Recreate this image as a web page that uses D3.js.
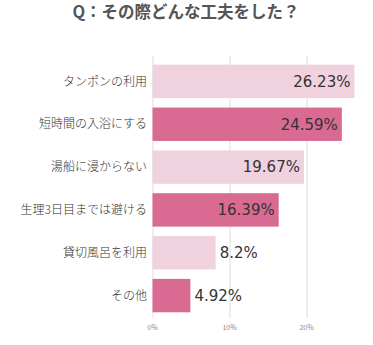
<!DOCTYPE html>
<html>
<head>
<meta charset="utf-8">
<script src="https://cdn.jsdelivr.net/npm/d3@7"></script>
<style>
  body { margin: 0; background: #fff; }
  svg { display: block; font-family: "Noto Sans CJK JP", sans-serif; }
</style>
</head>
<body>
<svg id="chart" width="373" height="345"></svg>
<script>
var categories = ["タンポンの利用", "短時間の入浴にする", "湯船に浸からない", "生理3日目までは避ける", "貸切風呂を利用", "その他"]
var values = [26.23, 24.59, 19.67, 16.39, 8.2, 4.92]
var valueLabels = ["26.23%", "24.59%", "19.67%", "16.39%", "8.2%", "4.92%"]
var tickValues = [0, 10, 20]
var tickLabels = ["0%", "10%", "20%"]

var svg = d3.select("#chart")
var light = "#f0d1de", dark = "#d96b93"

svg.append("text")
    .attr("x", 186)
    .attr("y", 18)
    .attr("text-anchor", "middle")
    .attr("font-size", 16.5)
    .attr("font-weight", "bold")
    .attr("fill", "#555")
    .text("Q：その際どんな工夫をした？")

var x = d3.scaleLinear().domain([0, 30]).range([152.5, 383.5])
var y = d3.scaleBand().domain(categories).range([60, 317]).paddingInner(0.22).paddingOuter(0.11)

// grid
svg.selectAll(".grid")
    .data(tickValues)
    .enter().append("line")
    .attr("x1", d => x(d) + 0.5)
    .attr("x2", d => x(d) + 0.5)
    .attr("y1", 56)
    .attr("y2", 318)
    .attr("stroke", "#ddd")
    .attr("stroke-width", 1)

svg.selectAll(".tick-label")
    .data(tickValues)
    .enter().append("text")
    .attr("x", d => x(d))
    .attr("y", 330)
    .attr("text-anchor", "middle")
    .attr("font-size", 7)
    .attr("fill", "#888")
    .text((d, i) => tickLabels[i])

svg.selectAll(".bar")
    .data(categories)
    .enter().append("rect")
    .attr("x", x(0))
    .attr("y", d => y(d))
    .attr("width", (d, i) => x(values[i]) - x(0))
    .attr("height", y.bandwidth())
    .attr("fill", (d, i) => i % 2 == 0 ? light : dark)

svg.selectAll(".cat")
    .data(categories)
    .enter().append("text")
    .attr("x", 147)
    .attr("y", d => y(d) + y.bandwidth() / 2)
    .attr("dy", "0.35em")
    .attr("text-anchor", "end")
    .attr("font-size", 12)
    .attr("font-weight", 300)
    .attr("fill", "#333")
    .text(d => d)

svg.selectAll(".val")
    .data(categories)
    .enter().append("text")
    .attr("x", (d, i) => values[i] > 10 ? x(values[i]) - 4 : x(values[i]) + 4)
    .attr("y", d => y(d) + y.bandwidth() / 2)
    .attr("dy", "0.36em")
    .attr("text-anchor", (d, i) => values[i] > 10 ? "end" : "start")
    .attr("font-family", "'DejaVu Sans', sans-serif")
    .attr("font-size", 15)
    .attr("fill", "#333")
    .text((d, i) => valueLabels[i])
</script>
</body>
</html>
